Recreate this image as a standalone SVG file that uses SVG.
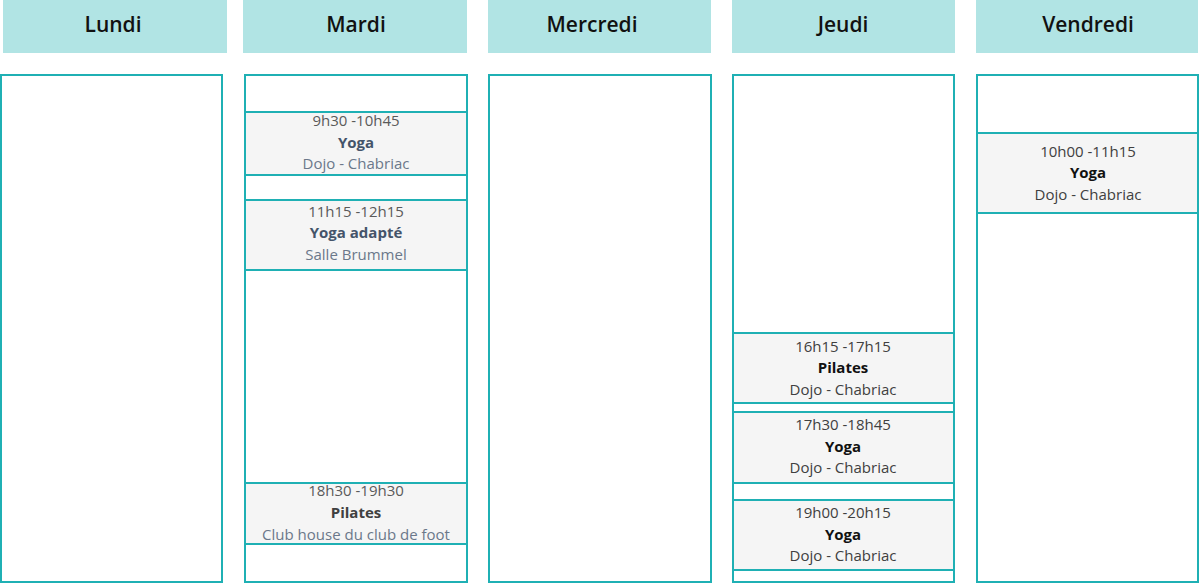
<svg xmlns="http://www.w3.org/2000/svg" width="1200" height="584" viewBox="0 0 1200 584">
<style>
.hdr{fill:#b1e4e4}
.ht{font-family:"Open Sans","Noto Sans",sans-serif;font-weight:600;font-size:21px;fill:#111;text-anchor:middle}
.col{fill:#fff;stroke:#1fb0b4;stroke-width:2}
.ev{fill:#f5f5f5;stroke:#1fb0b4;stroke-width:2}
.t{font-family:"Open Sans","Noto Sans",sans-serif;font-size:15px;text-anchor:middle}
.b{font-weight:bold}
.g{fill:#5a5a5a}
.s{fill:#44546a}
.sl{fill:#6b788a}
.k{fill:#111}
.d{fill:#404040}
</style>
<rect width="1200" height="584" fill="#fff"/>
<g id="headers">
<g id="h-lundi"><rect class="hdr" x="3" y="0" width="224" height="53"/><text class="ht" x="113" y="32">Lundi</text></g>
<g id="h-mardi"><rect class="hdr" x="243" y="0" width="224" height="53"/><text class="ht" x="356" y="32">Mardi</text></g>
<g id="h-mercredi"><rect class="hdr" x="488" y="0" width="223" height="53"/><text class="ht" x="592" y="32">Mercredi</text></g>
<g id="h-jeudi"><rect class="hdr" x="732" y="0" width="223" height="53"/><text class="ht" x="843" y="32">Jeudi</text></g>
<g id="h-vendredi"><rect class="hdr" x="976" y="0" width="222" height="53"/><text class="ht" x="1088" y="32">Vendredi</text></g>
</g>
<g id="columns">
<rect id="c-lundi" class="col" x="1" y="75" width="221" height="507"/>
<rect id="c-mardi" class="col" x="245" y="75" width="222" height="507"/>
<rect id="c-mercredi" class="col" x="489" y="75" width="222" height="507"/>
<rect id="c-jeudi" class="col" x="733" y="75" width="221" height="507"/>
<rect id="c-vendredi" class="col" x="977" y="75" width="221" height="507"/>
</g>
<g id="ev-mardi-1"><rect class="ev" x="245" y="112" width="222" height="63"/>
<text class="t g" x="356" y="126">9h30 -10h45</text><text class="t b s" x="356" y="148">Yoga</text><text class="t sl" x="356" y="169">Dojo - Chabriac</text></g>
<g id="ev-mardi-2"><rect class="ev" x="245" y="200" width="222" height="70"/>
<text class="t g" x="356" y="217">11h15 -12h15</text><text class="t b s" x="356" y="238">Yoga adapté</text><text class="t sl" x="356" y="260">Salle Brummel</text></g>
<g id="ev-mardi-3"><rect class="ev" x="245" y="483" width="222" height="61"/>
<text class="t g" x="356" y="496">18h30 -19h30</text><text class="t b d" x="356" y="518">Pilates</text><text class="t sl" x="356" y="540">Club house du club de foot</text></g>
<g id="ev-jeudi-1"><rect class="ev" x="733" y="333" width="221" height="70"/>
<text class="t d" x="843" y="352">16h15 -17h15</text><text class="t b k" x="843" y="373">Pilates</text><text class="t d" x="843" y="395">Dojo - Chabriac</text></g>
<g id="ev-jeudi-2"><rect class="ev" x="733" y="412" width="221" height="71"/>
<text class="t d" x="843" y="430">17h30 -18h45</text><text class="t b k" x="843" y="452">Yoga</text><text class="t d" x="843" y="473">Dojo - Chabriac</text></g>
<g id="ev-jeudi-3"><rect class="ev" x="733" y="500" width="221" height="70"/>
<text class="t d" x="843" y="518">19h00 -20h15</text><text class="t b k" x="843" y="540">Yoga</text><text class="t d" x="843" y="561">Dojo - Chabriac</text></g>
<g id="ev-vendredi-1"><rect class="ev" x="977" y="133" width="221" height="80"/>
<text class="t d" x="1088" y="157">10h00 -11h15</text><text class="t b k" x="1088" y="178">Yoga</text><text class="t d" x="1088" y="200">Dojo - Chabriac</text></g>
<g id="connectors"/>
</svg>
